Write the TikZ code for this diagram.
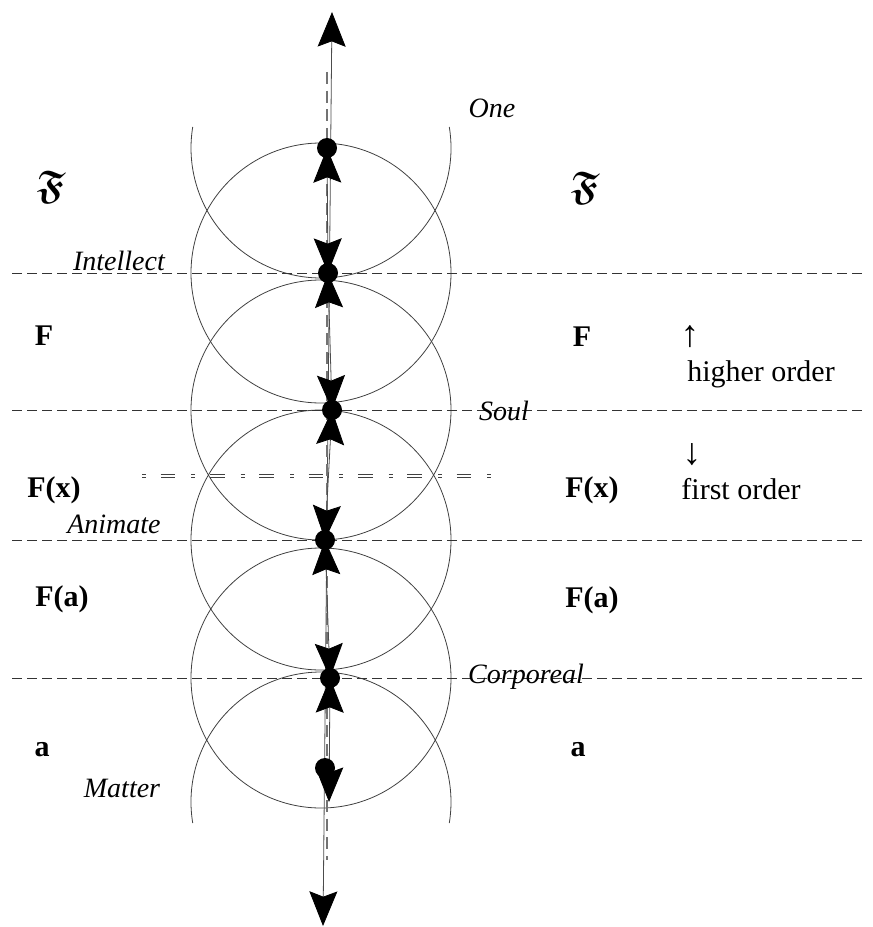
\documentclass[tikz,border=0pt]{standalone}
\usepackage{fontspec}
\setmainfont{Liberation Serif}
\usepackage{amsmath,amssymb}
\usetikzlibrary{arrows.meta}

\newcommand{\frakF}{$\boldsymbol{\mathfrak{F}}$}

\tikzset{
  >={Stealth[length=26pt, width=21pt, inset=4pt, color=black]},
  ring/.style={black!75, line width=0.6pt},
  level line/.style={black!80, line width=0.6pt, dash pattern=on 7.5pt off 3.75pt},
  link/.style={black!70, line width=0.6pt, <->},
  lvl/.style={font=\fontsize{21}{25}\selectfont\itshape, inner sep=1pt},
  sym/.style={font=\fontsize{22.5}{27}\selectfont\bfseries},
  goth/.style={font=\fontsize{30}{34}\selectfont},
  note/.style={font=\fontsize{22.5}{27}\selectfont},
  turn/.style={font=\fontsize{28}{30}\selectfont},
}

\begin{document}
\begin{tikzpicture}[x=0.75pt, y=-0.75pt]
	\useasboundingbox (0,0) rectangle (872,927);

	% circles round each stage
	\foreach \y in {273, 410, 540, 678}
		\draw[ring] (321,\y) circle[radius=130];
	\draw[ring] (321,148) ++(-9.3:130) arc[start angle=-9.3, end angle=189.3, radius=130];
	\draw[ring] (321,802) ++(170.7:130) arc[start angle=170.7, end angle=369.3, radius=130];

	% level lines
	\foreach \y in {273, 410, 540, 678}
		\draw[level line] (12,\y) -- (862,\y);
	\draw[black!75, double, double distance=1.2pt, line width=0.6pt,
		dash pattern=on 3pt off 11pt on 11pt off 12pt] (142,476) -- (495,476);

	% main axis
	\coordinate (axis bottom) at (323,926);
	\coordinate (axis top) at (332,12);
	\draw[black!70, line width=0.6pt, <->] (axis bottom) -- (axis top);
	\draw[black!55, line width=0.8pt, dash pattern=on 9pt off 5pt] (327,72) -- (327,860);

	% stages
	\coordinate (one)       at (327,148);
	\coordinate (intellect) at (328,273);
	\coordinate (soul)      at (332,410);
	\coordinate (animate)   at (325,540);
	\coordinate (corporeal) at (330,678);
	\coordinate (matter)    at (325,768);
	\coordinate (matter tip) at (329,802);

	\draw[link] (one) -- (intellect);
	\draw[link] (intellect) -- (soul);
	\draw[link] (soul) -- (animate);
	\draw[link] (animate) -- (corporeal);
	\draw[link] (corporeal) -- (matter tip);

	\foreach \s in {one, intellect, soul, animate, corporeal, matter}
		\fill (\s) circle[radius=10];

	% stage names
	\node[lvl] (lone)       at (492,108) {One};
	\node[lvl] (lintellect) at (119,261) {Intellect};
	\node[lvl] (lsoul)      at (504,411) {Soul};
	\node[lvl] (lanimate)   at (114,524) {Animate};
	\node[lvl] (lcorporeal) at (526,677) {Corporeal};
	\node[lvl] (lmatter)    at (122,788) {Matter};

	% predicates, left and right
	\node[goth] (fl1) at (51,187) {\frakF};
	\node[sym]  (fl2) at (44,336) {F};
	\node[sym]  (fl3) at (54,490) {F(x)};
	\node[sym]  (fl4) at (62,599) {F(a)};
	\node[sym]  (fl5) at (42,750) {a};
	\node[goth] (fr1) at (585,188) {\frakF};
	\node[sym]  (fr2) at (582,337) {F};
	\node[sym]  (fr3) at (592,490) {F(x)};
	\node[sym]  (fr4) at (592,600) {F(a)};
	\node[sym]  (fr5) at (578,750) {a};

	% orders
	\node[turn] (up)     at (690,337) {↑};
	\node[note] (higher) at (761,374) {higher order};
	\node[turn] (down)   at (692,455) {↓};
	\node[note] (first)  at (741,489) {first order};
\end{tikzpicture}
\end{document}
